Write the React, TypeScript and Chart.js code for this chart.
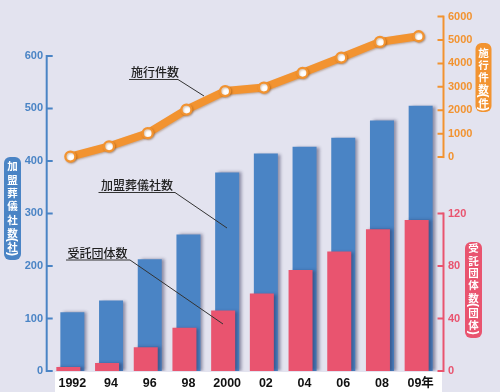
import React, { useEffect, useRef } from "react";
import { Chart, registerables } from "chart.js";
Chart.register(...registerables);

// ---- data ----
const years = ["1992", "94", "96", "98", "2000", "02", "04", "06", "08", "09年"];
const memberCompanies = [112, 134, 213, 260, 378, 414, 427, 444, 477, 505]; // 加盟葬儀社数(社)
const entrustedGroups = [3, 6, 18, 33, 46, 59, 77, 91, 108, 115]; // 受託団体数(団体)
const ceremonies = [20, 460, 1020, 2030, 2820, 2970, 3600, 4250, 4920, 5160]; // 施行件数(件)
const leftTicks = [0, 100, 200, 300, 400, 500, 600];
const orangeTicks = [0, 1000, 2000, 3000, 4000, 5000, 6000];
const redTicks = [0, 40, 80, 120];

// ---- styles ----
const BLUE = "#4A84C5";
const RED = "#E9546F";
const ORANGE = "#F29330";
const BG = "#E3E3EF";
const NUM_FONT = "'Liberation Sans', 'Noto Sans CJK JP', sans-serif";
const JP_FONT = "'Noto Sans CJK JP', sans-serif";
const Y_TICK_FONT = `bold 11px ${NUM_FONT}`;

const badges = [
  { text: "加盟葬儀社数(社)", cx: 12.5, top: 157, bottom: 260, y0: 166, step: 13.3, gap: 7.2, color: BLUE, w: 17 },
  { text: "施行件数(件)", cx: 483.5, top: 43, bottom: 112, y0: 52.8, step: 12, gap: 6.7, color: ORANGE, w: 16 },
  { text: "受託団体数(団体)", cx: 473.5, top: 242, bottom: 338, y0: 248, step: 12.3, gap: 7.75, color: RED, w: 17 },
];

const notes = [
  { text: "施行件数", tx: 131, ty: 72, ux0: 129, ux1: 178, uy: 79.5, ex: 204, ey: 96 },
  { text: "加盟葬儀社数", tx: 101, ty: 185, ux0: 98.5, ux1: 175, uy: 192.5, ex: 227, ey: 228 },
  { text: "受託団体数", tx: 67.5, ty: 253, ux0: 66, ux1: 130, uy: 260, ex: 223, ey: 324 },
];

function drawAxis(ctx: CanvasRenderingContext2D, scale: any, ticks: number[], x: number, dir: number, color: string) {
  const yTop = scale.getPixelForValue(ticks[ticks.length - 1]);
  const yBot = scale.getPixelForValue(ticks[0]);
  ctx.save();
  ctx.strokeStyle = color;
  ctx.lineWidth = 2;
  ctx.beginPath();
  ctx.moveTo(x, yTop - 1);
  ctx.lineTo(x, yBot + 1);
  ctx.stroke();
  ctx.beginPath();
  for (const v of ticks) {
    const y = scale.getPixelForValue(v);
    ctx.moveTo(x, y);
    ctx.lineTo(x + dir * 6, y);
  }
  ctx.stroke();
  ctx.restore();
}

const decoPlugin = {
  id: "deco",
  beforeDraw(chart: any) {
    const { ctx, width, height, chartArea } = chart;
    ctx.save();
    ctx.fillStyle = BG;
    ctx.fillRect(0, 0, width, height);
    ctx.fillStyle = "#ffffff";
    ctx.fillRect(chartArea.left + 4, chartArea.bottom + 1, chartArea.right - chartArea.left, height - chartArea.bottom - 1);
    ctx.restore();
  },
  beforeDatasetDraw(chart: any, args: any) {
    const ctx = chart.ctx;
    ctx.save();
    if (args.meta.type === "bar") {
      ctx.shadowColor = "rgba(40,40,80,0.45)";
      ctx.shadowOffsetX = 3;
      ctx.shadowOffsetY = 0;
      ctx.shadowBlur = 3;
    } else {
      ctx.shadowColor = "rgba(120,60,0,0.35)";
      ctx.shadowOffsetX = 1;
      ctx.shadowOffsetY = 1;
      ctx.shadowBlur = 2;
    }
  },
  afterDatasetDraw(chart: any) {
    chart.ctx.restore();
  },
  afterDraw(chart: any) {
    const { ctx, chartArea, scales } = chart;
    const axR = chartArea.right + 5.5;
    drawAxis(ctx, scales.y, leftTicks, chartArea.left - 4.3, 1, BLUE);
    drawAxis(ctx, scales.yOrange, orangeTicks, axR, -1, ORANGE);
    drawAxis(ctx, scales.yRed, redTicks, axR, -1, RED);

    // red axis tick labels (shares the right edge with the orange axis)
    ctx.save();
    ctx.fillStyle = RED;
    ctx.font = Y_TICK_FONT;
    ctx.textAlign = "left";
    ctx.textBaseline = "middle";
    for (const v of redTicks) {
      ctx.fillText(String(v), chartArea.right + 10, scales.yRed.getPixelForValue(v));
    }
    ctx.restore();

    // badges
    for (const b of badges) {
      ctx.save();
      ctx.fillStyle = b.color;
      ctx.beginPath();
      (ctx as any).roundRect(b.cx - b.w / 2, b.top, b.w, b.bottom - b.top, 6);
      ctx.fill();
      ctx.fillStyle = "#ffffff";
      ctx.strokeStyle = "#ffffff";
      ctx.textAlign = "center";
      ctx.textBaseline = "middle";
      let y = b.y0;
      let prevParen = false;
      const chars = Array.from(b.text);
      chars.forEach((ch, i) => {
        const paren = ch === "(" || ch === ")";
        if (i > 0) y += paren || prevParen ? b.gap : b.step;
        if (paren) {
          // vertical parenthesis: the "(" glyph turned a quarter
          ctx.save();
          ctx.translate(b.cx, y);
          ctx.rotate(Math.PI / 2);
          ctx.font = `bold 12px ${NUM_FONT}`;
          ctx.fillText(ch, 0, 0.5);
          ctx.restore();
        } else {
          ctx.font = `bold 10.5px ${JP_FONT}`;
          ctx.fillText(ch, b.cx, y + 0.5);
        }
        prevParen = paren;
      });
      ctx.restore();
    }

    // annotations
    for (const n of notes) {
      ctx.save();
      ctx.fillStyle = "#222";
      ctx.font = `500 12px ${JP_FONT}`;
      ctx.textAlign = "left";
      ctx.textBaseline = "middle";
      ctx.fillText(n.text, n.tx, n.ty);
      ctx.strokeStyle = "#333";
      ctx.lineWidth = 1;
      ctx.beginPath();
      ctx.moveTo(n.ux0, n.uy);
      ctx.lineTo(n.ux1, n.uy);
      ctx.lineTo(n.ex, n.ey);
      ctx.stroke();
      ctx.restore();
    }
  },
};

export default function App() {
  const ref = useRef<HTMLCanvasElement | null>(null);
  useEffect(() => {
    document.body.style.margin = "0";
    const canvas = ref.current;
    if (!canvas) return;
    const yTickFont = { family: NUM_FONT, size: 11, weight: "bold" as const };
    const plain = (v: any) => String(v);
    const chart = new Chart(canvas, {
      type: "bar",
      data: {
        labels: years,
        datasets: [
          {
            type: "line",
            label: "施行件数",
            data: ceremonies,
            yAxisID: "yOrange",
            borderColor: ORANGE,
            borderWidth: 8,
            borderJoinStyle: "round",
            borderCapStyle: "round",
            pointRadius: 5,
            pointBorderWidth: 2.3,
            pointBorderColor: ORANGE,
            pointBackgroundColor: "#ffffff",
            tension: 0,
            clip: false,
            order: 0,
          } as any,
          {
            type: "bar",
            label: "受託団体数",
            data: entrustedGroups,
            yAxisID: "yRed",
            backgroundColor: RED,
            barPercentage: 6,
            categoryPercentage: 0.2067,
            order: 1,
          },
          {
            type: "bar",
            label: "加盟葬儀社数",
            data: memberCompanies,
            yAxisID: "y",
            backgroundColor: BLUE,
            barPercentage: 6,
            categoryPercentage: 0.2067,
            order: 2,
          },
        ],
      },
      options: {
        responsive: false,
        devicePixelRatio: 1,
        animation: false,
        layout: { padding: { left: 0, right: 0, top: 10, bottom: 0 } },
        plugins: { legend: { display: false }, tooltip: { enabled: false } },
        scales: {
          x: {
            type: "category",
            offset: true,
            grid: { display: false, drawTicks: false },
            border: { display: false },
            ticks: {
              color: "#111",
              font: { family: NUM_FONT, size: 12.5, weight: "bold" },
              padding: 5,
              labelOffset: 2,
              maxRotation: 0,
              autoSkip: false,
            },
            afterFit: (s: any) => {
              s.height = 21;
            },
          },
          y: {
            position: "left",
            min: 0,
            max: 674.8,
            grid: { display: false, drawTicks: false },
            border: { display: false },
            ticks: { color: BLUE, font: yTickFont, padding: 8, callback: plain },
            afterBuildTicks: (s: any) => {
              s.ticks = leftTicks.map((v) => ({ value: v }));
            },
            afterFit: (s: any) => {
              s.width = 51;
            },
          },
          yOrange: {
            position: "right",
            min: -9136,
            max: 6000,
            grid: { display: false, drawTicks: false },
            border: { display: false },
            ticks: { color: ORANGE, font: yTickFont, padding: 10, callback: plain },
            afterBuildTicks: (s: any) => {
              s.ticks = orangeTicks.map((v) => ({ value: v }));
            },
            afterFit: (s: any) => {
              s.width = 62;
            },
          },
          yRed: {
            display: false,
            position: "right",
            min: 0,
            max: 270,
          },
        },
      } as any,
      plugins: [decoPlugin],
    });
    return () => chart.destroy();
  }, []);
  return (
    <div style={{ position: "absolute", left: 0, top: 0, width: 500, height: 392 }}>
      <canvas ref={ref} width={500} height={392} style={{ display: "block" }} />
    </div>
  );
}
